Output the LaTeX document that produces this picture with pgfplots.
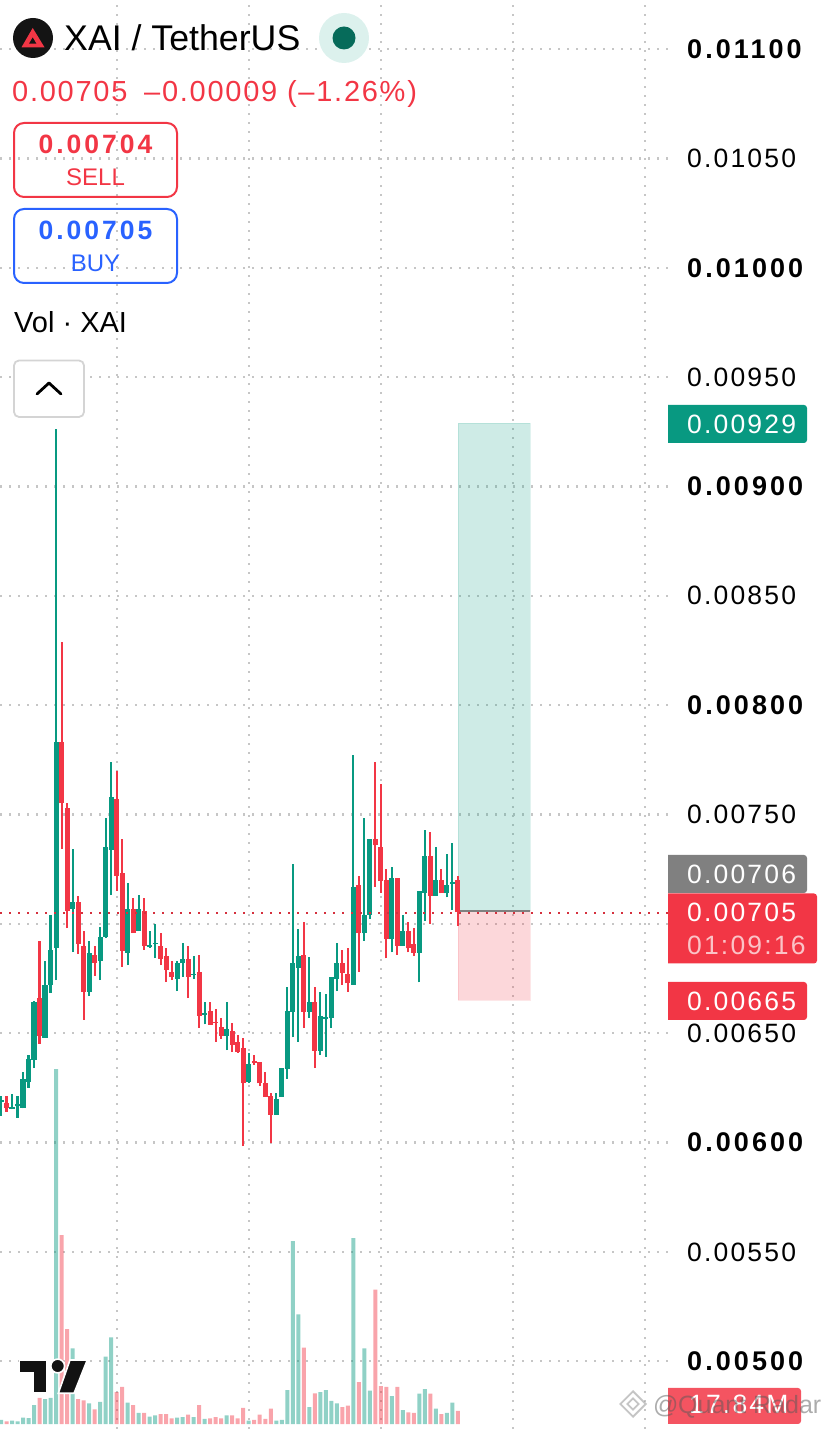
\documentclass[border=0pt]{standalone}
\usepackage{pgfplots}
\usepackage{pgfplotstable}
\usepackage{fontspec}
\pgfplotsset{compat=1.18}
\setmainfont{Liberation Sans}
\newfontfamily\lab[LetterSpace=8.2]{Liberation Sans}
\newfontfamily\labs{Liberation Sans}
\newfontfamily\labb[LetterSpace=11.4,BoldFont={Liberation Sans Bold}]{Liberation Sans}
\newfontfamily\head[LetterSpace=6]{Liberation Sans}
\newcommand{\fs}[1]{\fontsize{#1}{#1}\selectfont}
\newcommand{\rt}[1]{{\lab\fs{26.5}#1}}
\newcommand{\bt}[1]{{\labb\fs{27}\bfseries #1}}
\definecolor{up}{HTML}{089981}
\definecolor{down}{HTML}{F23645}
\definecolor{buy}{HTML}{2962FF}
\definecolor{gridc}{HTML}{C6C6C6}

\pgfplotstableread{
x high top bottom low vol
0 0.006213 0.006195 0.006187 0.006122 5.5
2 0.006222 0.006161 0.006154 0.006152 4.5
3 0.006213 0.006175 0.006167 0.006114 3.7
4 0.006324 0.006289 0.006160 0.006157 8.6
5 0.006400 0.006381 0.006278 0.006251 8.2
6 0.006647 0.006644 0.006379 0.006340 26
8 0.006830 0.006721 0.006480 0.006480 34.3
9 0.007041 0.006881 0.006721 0.006683 35.7
10 0.009263 0.007830 0.006888 0.006743 487
13 0.007342 0.007100 0.007068 0.006871 103.9
16 0.006922 0.006868 0.006690 0.006670 28.4
18 0.006987 0.006941 0.006830 0.006743 30.2
19 0.007484 0.007351 0.006940 0.006935 92.3
20 0.007739 0.007582 0.007338 0.007132 119
23 0.007188 0.007068 0.006868 0.006812 29.2
25 0.007132 0.007068 0.006969 0.006967 15.1
27 0.006969 0.006903 0.006894 0.006891 10
28 0.007000 0.006914 0.006907 0.006844 11.9
32 0.006830 0.006820 0.006748 0.006693 8.6
33 0.006913 0.006841 0.006820 0.006759 9.6
35 0.006853 0.006772 0.006766 0.006748 9.6
37 0.006643 0.006591 0.006583 0.006540 6.9
41 0.006643 0.006519 0.006489 0.006423 11.9
45 0.006411 0.006359 0.006276 0.006272 4.5
50 0.006228 0.006201 0.006128 0.006128 4.5
51 0.006340 0.006340 0.006210 0.006210 5.5
52 0.006710 0.006602 0.006338 0.006292 46.6
53 0.007272 0.006820 0.006598 0.006481 251
54 0.006978 0.006853 0.006800 0.006461 150.5
56 0.006850 0.006641 0.006598 0.006571 23.3
58 0.006690 0.006579 0.006419 0.006400 43.9
59 0.006679 0.006573 0.006566 0.006393 46.6
60 0.006759 0.006759 0.006568 0.006523 31.6
61 0.006911 0.006820 0.006747 0.006693 28.4
64 0.007772 0.007169 0.006721 0.006721 255
66 0.007483 0.007041 0.006957 0.006922 103.9
67 0.007388 0.007388 0.007041 0.007022 45.7
71 0.007261 0.007208 0.006929 0.006870 38.4
73 0.007041 0.006967 0.006899 0.006899 19.2
76 0.007150 0.007150 0.006868 0.006733 41.6
77 0.007429 0.007310 0.007142 0.007013 48
79 0.007350 0.007199 0.007129 0.007129 21
81 0.007319 0.007179 0.007140 0.007121 15.1
82 0.007371 0.007190 0.007184 0.007063 29.2
}\uptable

\pgfplotstableread{
x high top bottom low vol
1 0.006213 0.006182 0.006158 0.006141 3.7
7 0.006920 0.006660 0.006487 0.006451 35.7
11 0.008290 0.007830 0.007551 0.007342 259
12 0.007551 0.007530 0.007060 0.006981 130
14 0.007129 0.007100 0.006908 0.006862 34.3
15 0.006969 0.006900 0.006690 0.006561 32.5
17 0.006900 0.006858 0.006821 0.006762 20.2
21 0.007699 0.007571 0.007219 0.007152 43.9
22 0.007387 0.007233 0.006877 0.006804 50.8
24 0.007120 0.007068 0.006958 0.006958 26
26 0.007120 0.007060 0.006899 0.006881 15.1
29 0.006958 0.006900 0.006839 0.006812 13.7
30 0.006890 0.006853 0.006789 0.006734 13.7
31 0.006830 0.006780 0.006759 0.006743 7.8
34 0.006900 0.006841 0.006759 0.006661 12.8
36 0.006858 0.006779 0.006579 0.006524 26
38 0.006643 0.006602 0.006538 0.006538 7.8
39 0.006609 0.006553 0.006545 0.006461 9.6
40 0.006570 0.006530 0.006489 0.006474 7.8
42 0.006548 0.006510 0.006446 0.006414 11.9
43 0.006492 0.006458 0.006416 0.006411 7.8
44 0.006480 0.006431 0.006271 0.005984 22
46 0.006400 0.006373 0.006365 0.006355 5.5
47 0.006370 0.006368 0.006271 0.006260 12.8
48 0.006321 0.006271 0.006210 0.006210 6.9
49 0.006228 0.006213 0.006128 0.005998 21
55 0.007010 0.006858 0.006598 0.006523 104.7
57 0.006710 0.006641 0.006419 0.006340 42.1
62 0.006881 0.006820 0.006777 0.006721 23.3
63 0.006888 0.006769 0.006728 0.006690 25.1
65 0.007219 0.007178 0.006957 0.006781 57.6
68 0.007740 0.007388 0.007359 0.007170 184.3
69 0.007639 0.007350 0.007196 0.007142 52.1
70 0.007250 0.007199 0.006929 0.006842 50.8
72 0.007208 0.007208 0.006899 0.006858 50.8
74 0.007010 0.006967 0.006888 0.006870 16
75 0.006980 0.006908 0.006868 0.006853 15.1
78 0.007419 0.007310 0.007129 0.007001 41.6
80 0.007250 0.007199 0.007140 0.007140 13.7
83 0.007219 0.007199 0.007054 0.006992 17.84
}\downtable

\pgfplotsset{
  frame/.style={
    scale only axis, width=668pt, height=1429pt, at={(0pt,0pt)}, anchor=south west,
    xmin=-0.1817, xmax=121.16, clip=true
  },
  wick/.style={draw=none, mark=none, forget plot, error bars/.cd, y dir=plus, y explicit, error mark=none,
    error bar style={line width=2.1pt, color=#1}},
  body/.style={draw=none, mark=none, forget plot, error bars/.cd, y dir=plus, y explicit, error mark=none,
    error bar style={line width=5.1pt, color=#1}},
}
% right-hand price tag: only the right corners are rounded
\newcommand{\tagbox}[4]{\fill[#1] (668,#3) {[rounded corners=3pt] -- (#2,#3) -- (#2,#4)} -- (668,#4) -- cycle;}

\begin{document}
\begin{tikzpicture}
\path[use as bounding box] (0pt,0pt) rectangle (828pt,1429pt);
\begin{axis}[frame,
  ymin=0.00469045, ymax=0.0112245,
  axis line style={draw=none}, tick style={draw=none},
  major tick length=0pt,
  xtick={21.07,45.05,69.03,93.0,117.0}, xticklabels={},
  ytick={0.005,0.0055,0.006,0.0065,0.007,0.0075,0.008,0.0085,0.009,0.0095,0.01,0.0105,0.011},
  yticklabels={\bt{0.00500},\rt{0.00550},\bt{0.00600},\rt{0.00650},{},\rt{0.00750},\bt{0.00800},\rt{0.00850},\bt{0.00900},\rt{0.00950},\bt{0.01000},\rt{0.01050},\bt{0.01100}},
  yticklabel pos=right,
  yticklabel style={anchor=west, inner sep=0pt, xshift=19pt},
  scaled y ticks=false,
  xmajorgrids, ymajorgrids,
  grid style={color=gridc, line width=2.2pt, dash pattern=on 2.2pt off 6.8pt},
]
% position tool
\addplot[draw=up, draw opacity=.12, line width=.8pt, fill=up, fill opacity=.2, forget plot]
  coordinates {(83.02,0.00929)(96.1,0.00929)(96.1,0.00706)(83.02,0.00706)} -- cycle;
\addplot[draw=down, draw opacity=.12, line width=.8pt, fill=down, fill opacity=.2, forget plot]
  coordinates {(83.02,0.00706)(96.1,0.00706)(96.1,0.00665)(83.02,0.00665)} -- cycle;
\addplot[color=gray, line width=1.6pt, forget plot] coordinates {(83.02,0.00706)(96.1,0.00706)};
% candles
\addplot[wick=up] table[x=x, y=low, y error plus expr=\thisrow{high}-\thisrow{low}] {\uptable};
\addplot[body=up] table[x=x, y=bottom, y error plus expr=\thisrow{top}-\thisrow{bottom}] {\uptable};
\addplot[wick=down] table[x=x, y=low, y error plus expr=\thisrow{high}-\thisrow{low}] {\downtable};
\addplot[body=down] table[x=x, y=bottom, y error plus expr=\thisrow{top}-\thisrow{bottom}] {\downtable};
% last price line
\addplot[color=down!88!black, line width=2.2pt, dash pattern=on 2.2pt off 6.8pt, forget plot]
  coordinates {(-0.1817,0.00705)(121.16,0.00705)};
\end{axis}

\begin{axis}[frame, hide axis, ymin=-6.86, ymax=1953.7]
\addplot[ybar, bar width=4pt, bar shift=0pt, draw=none, fill=up, fill opacity=.45, forget plot]
  table[x=x, y=vol] {\uptable};
\addplot[ybar, bar width=4pt, bar shift=0pt, draw=none, fill=down, fill opacity=.45, forget plot]
  table[x=x, y=vol] {\downtable};
\end{axis}

\begin{scope}[x=1pt, y=-1pt, shift={(0pt,1429pt)}]
% header
\fill[black!92] (33,38) circle (20);
\fill[down] (32.7,28) -- (44.5,47.3) -- (21.5,47.3) -- cycle;
\fill[black!92] (32.7,37.5) -- (36.4,43.7) -- (29,43.7) -- cycle;
\node[anchor=base west, inner sep=0pt] at (64,51) {\fs{35.7}XAI / TetherUS};
\fill[up!14] (344,38) circle (25);
\fill[up!70!black] (344,38) circle (11.5);
\node[anchor=base west, inner sep=0pt, text=down] at (12,101.5) {\head\fs{29}0.00705};
\node[anchor=base west, inner sep=0pt, text=down] at (144,101.5) {\head\fs{29}–0.00009 (–1.26\%)};
% sell / buy
\draw[down, line width=2pt, rounded corners=10pt] (14,123) rectangle (177,197);
\node[anchor=base, inner sep=0pt, text=down] at (95.5,153.5) {\labb\fs{26.5}\bfseries 0.00704};
\node[anchor=base, inner sep=0pt, text=down] at (95.5,185.5) {\labs\fs{24}SELL};
\draw[buy, line width=2pt, rounded corners=10pt] (14,209) rectangle (177,283);
\node[anchor=base, inner sep=0pt, text=buy] at (95.5,239.5) {\labb\fs{26.5}\bfseries 0.00705};
\node[anchor=base, inner sep=0pt, text=buy] at (95.5,271.5) {\labs\fs{24}BUY};
\node[anchor=base west, inner sep=0pt] at (14,333) {\fs{29}Vol · XAI};
\draw[fill=white, draw=black!17, line width=1.8pt, rounded corners=5pt] (14,360.5) rectangle (84,417);
\draw[black, line width=2.8pt, line cap=round, line join=round] (37,394) -- (49,383) -- (61,394);
% tags
\tagbox{up}{807}{405}{443}
\node[anchor=base west, inner sep=0pt, text=white] at (687,433.5) {\rt{0.00929}};
\tagbox{black!50}{807}{855}{893}
\node[anchor=base west, inner sep=0pt, text=white] at (687,884) {\rt{0.00706}};
\tagbox{down}{817}{893.5}{963.5}
\node[anchor=base west, inner sep=0pt, text=white] at (687,922) {\rt{0.00705}};
\node[anchor=base west, inner sep=0pt, text=white!70!down] at (687,954.5) {\rt{01:09:16}};
\tagbox{down}{807}{982}{1020}
\node[anchor=base west, inner sep=0pt, text=white] at (687,1010.5) {\rt{0.00665}};
\tagbox{down!85!white}{801}{1388}{1424}
\node[anchor=base west, inner sep=0pt, text=white] at (689,1414) {\rt{17.84M}};
% TradingView logo
\begin{scope}[fill=black!93, draw=white, line width=1.6pt]
\filldraw (19.3,1360) -- (46.7,1360) -- (46.7,1393.3) -- (33.3,1393.3) -- (33.3,1373.3) -- (19.3,1373.3) -- cycle;
\filldraw (57.7,1366) circle (6.9);
\filldraw (70,1360) -- (87.3,1360) -- (74,1393.3) -- (58.3,1393.3) -- cycle;
\end{scope}
% watermark
\begin{scope}[opacity=.5]
\begin{scope}[shift={(633,1404)}, rotate=45, draw=black!45, line width=1.8pt, fill=white]
\filldraw (-4,-4) rectangle (4,4);
\draw (-9,-9) -- (-9,9) -- (9,9) -- (9,-9) -- cycle;
\end{scope}
\node[anchor=base west, inner sep=0pt, text=black!65] at (653,1413) {\fs{25}@};
\node[anchor=base west, inner sep=0pt, text=black!65] at (678,1413) {\fs{25}Quant Radar};
\end{scope}
\end{scope}
\end{tikzpicture}
\end{document}
